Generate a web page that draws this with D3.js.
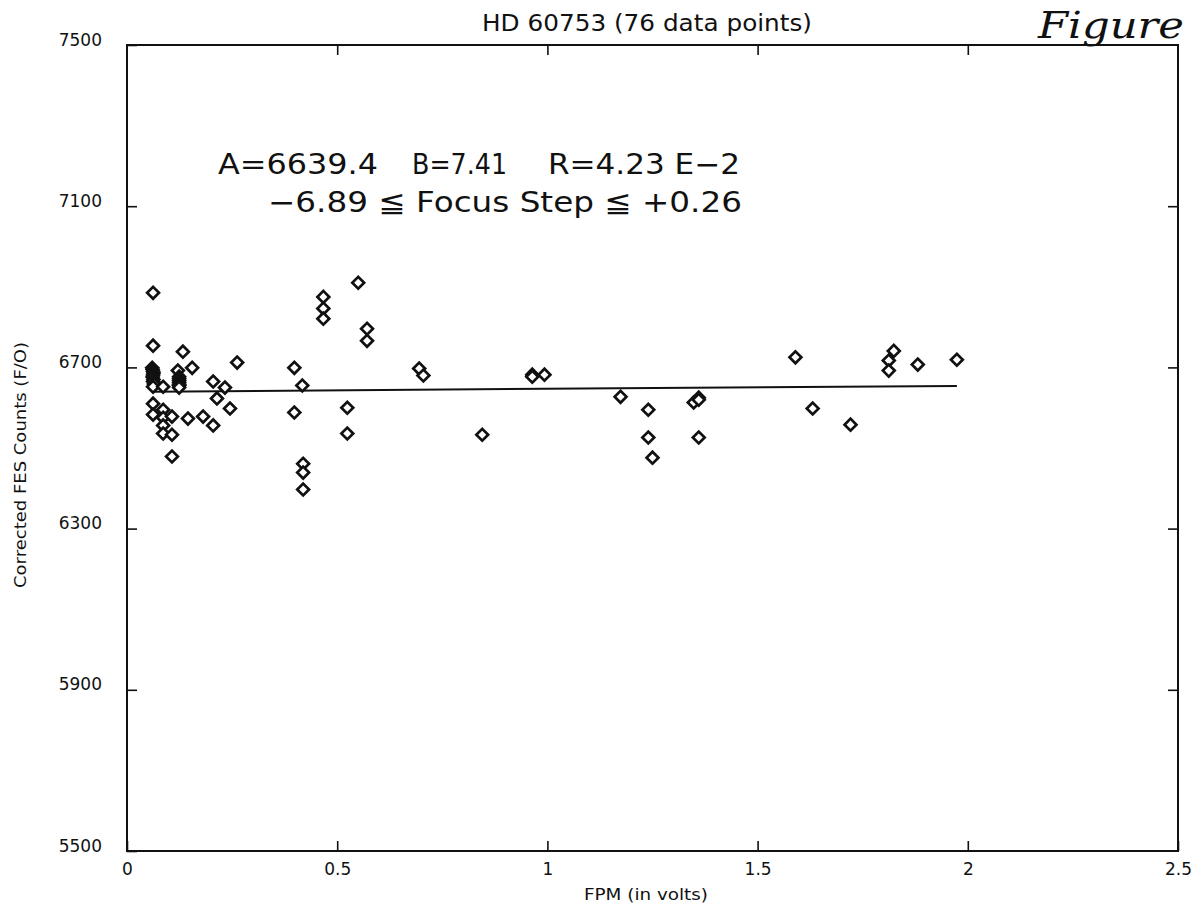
<!DOCTYPE html>
<html>
<head>
<meta charset="utf-8">
<script src="https://cdn.jsdelivr.net/npm/d3@7"></script>
<style>
  html, body { margin: 0; padding: 0; background: #fff; }
  svg { display: block; }
  text { font-family: "DejaVu Sans", sans-serif; fill: #111; }
</style>
</head>
<body>
<svg id="chart" width="1191" height="916"></svg>
<script>
// ---------- data ----------
const fpm = [
  0.062, 0.062, 0.060, 0.061, 0.062, 0.063, 0.062, 0.061, 0.063, 0.062, 0.064, 0.062, 0.062, 0.062,
  0.086, 0.086, 0.086, 0.086, 0.086,
  0.107, 0.107, 0.107,
  0.133, 0.121, 0.124, 0.124, 0.124, 0.124, 0.124, 0.124, 0.124,
  0.145, 0.155, 0.181, 0.205, 0.205, 0.214, 0.233, 0.245, 0.262,
  0.550, 0.467, 0.467, 0.467, 0.571, 0.571, 0.398, 0.398, 0.417, 0.524, 0.524, 0.419, 0.419, 0.419,
  0.695, 0.705, 0.964, 0.964, 0.993, 0.845,
  1.174, 1.240, 1.240, 1.250, 1.348, 1.360, 1.360, 1.360,
  1.590, 1.631, 1.721, 1.824, 1.812, 1.812, 1.881, 1.974
];
const counts = [
  6885, 6754, 6699, 6695, 6690, 6686, 6681, 6676, 6670, 6665, 6659, 6652, 6610, 6583,
  6652, 6595, 6575, 6556, 6536,
  6578, 6533, 6479,
  6739, 6692, 6677, 6672, 6667, 6662, 6657, 6655, 6650,
  6573, 6699, 6578, 6665, 6556, 6623, 6650, 6598, 6712,
  6910, 6875, 6846, 6821, 6796, 6766, 6699, 6588, 6655, 6600, 6536, 6461, 6439, 6397,
  6697, 6680, 6682, 6677, 6682, 6533,
  6627, 6595, 6526, 6476, 6613, 6625, 6620, 6526,
  6725, 6598, 6558, 6741, 6717, 6692, 6707, 6719
];
const fitA = 6639.4, fitB = 7.41;
const xTicks = [0, 0.5, 1, 1.5, 2, 2.5];
const yTicks = [5500, 5900, 6300, 6700, 7100, 7500];
const title = "HD 60753 (76 data points)";
const xTitle = "FPM (in volts)";
const yTitle = "Corrected FES Counts (F/O)";
const noteParts = ["A=6639.4", "B=7.41", "R=4.23 E\u22122"];
const noteLine2 = "\u22126.89 \u2266 Focus Step \u2266 +0.26";
const handNote = "Figure";

// ---------- layout ----------
const L = 127, R = 1178, T = 45, B = 851;
const svg = d3.select("#chart");
const x = d3.scaleLinear().domain([0, 2.5]).range([L, R]);
const y = d3.scaleLinear().domain([5500, 7500]).range([B, T]);

// frame
svg.append("rect").attr("x", L).attr("y", T).attr("width", R - L).attr("height", B - T)
  .attr("fill", "none").attr("stroke", "#111").attr("stroke-width", 2);

// axes (inward ticks)
const fmt = d => String(d);
const gx = svg.append("g").attr("transform", `translate(0,${B})`)
  .call(d3.axisBottom(x).tickValues(xTicks).tickFormat(fmt).tickSize(-10).tickSizeOuter(0).tickPadding(12));
const gxt = svg.append("g").attr("transform", `translate(0,${T})`)
  .call(d3.axisTop(x).tickValues(xTicks.slice(1, -1)).tickFormat("").tickSize(-10).tickSizeOuter(0));
const gy = svg.append("g").attr("transform", `translate(${L},0)`)
  .call(d3.axisLeft(y).tickValues(yTicks).tickFormat(fmt).tickSize(-10).tickSizeOuter(0).tickPadding(25));
const gyr = svg.append("g").attr("transform", `translate(${R},0)`)
  .call(d3.axisRight(y).tickValues(yTicks.slice(1, -1)).tickFormat("").tickSize(-10).tickSizeOuter(0));

[gx, gxt, gy, gyr].forEach(g => {
  g.select(".domain").remove();
  g.selectAll(".tick line").attr("stroke", "#111").attr("stroke-width", 1.6);
  g.selectAll("text").style("font-family", "'DejaVu Sans', sans-serif").attr("fill", "#111");
});
gx.selectAll("text").style("font-size", "17px");
gy.selectAll("text").style("font-size", "17px").attr("dy", "0");

// fit line
const x0 = d3.min(fpm), x1 = d3.max(fpm);
svg.append("line")
  .attr("x1", x(x0)).attr("y1", y(fitA + fitB * x0))
  .attr("x2", x(x1)).attr("y2", y(fitA + fitB * x1))
  .attr("stroke", "#111").attr("stroke-width", 2);

// points (diamonds)
const sym = d3.symbol().type(d3.symbolSquare).size(70)();
svg.append("g").selectAll("path").data(fpm.map((v, i) => [v, counts[i]])).join("path")
  .attr("d", sym)
  .attr("transform", d => `translate(${x(d[0])},${y(d[1])}) rotate(45)`)
  .attr("fill", "#fff").attr("stroke", "#111").attr("stroke-width", 2.7);

// titles
svg.append("text").attr("x", 647).attr("y", 31).attr("text-anchor", "middle")
  .attr("textLength", 330).attr("lengthAdjust", "spacingAndGlyphs")
  .style("font-size", "23px").text(title);
svg.append("text").attr("x", 646).attr("y", 900).attr("text-anchor", "middle")
  .attr("textLength", 124).attr("lengthAdjust", "spacingAndGlyphs")
  .style("font-size", "16px").text(xTitle);
svg.append("text").attr("transform", "translate(26,465) rotate(-90)").attr("text-anchor", "middle")
  .attr("textLength", 246).attr("lengthAdjust", "spacingAndGlyphs")
  .style("font-size", "16px").text(yTitle);

// annotation
const noteX = [218, 412, 548];
const noteW = [160, 95, 192];
noteParts.forEach((t, i) => {
  svg.append("text").attr("x", noteX[i]).attr("y", 174)
    .attr("textLength", noteW[i]).attr("lengthAdjust", "spacingAndGlyphs")
    .style("font-size", "28px").text(t);
});
svg.append("text").attr("x", 268).attr("y", 212)
  .attr("textLength", 474).attr("lengthAdjust", "spacingAndGlyphs")
  .style("font-size", "28px").text(noteLine2);

// handwritten note in corner
svg.append("text").attr("x", 1038).attr("y", 38)
  .attr("textLength", 146).attr("lengthAdjust", "spacingAndGlyphs")
  .style("font-family", "'DejaVu Serif', serif").style("font-style", "italic")
  .style("font-size", "38px").text(handNote);
</script>
</body>
</html>
